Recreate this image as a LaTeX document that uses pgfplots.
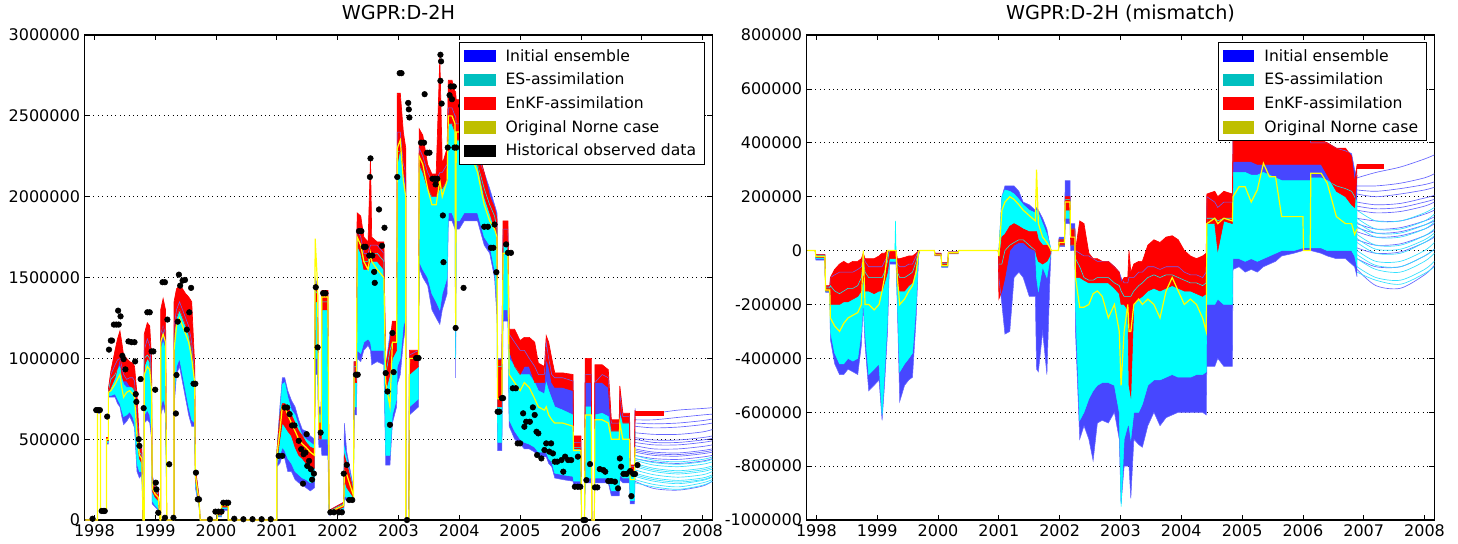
\documentclass[border=0pt]{standalone}
\usepackage{fontspec}
\setmainfont{DejaVu Sans}
\usepackage{pgfplots}
\usepackage{pgfplotstable}
\usepgfplotslibrary{fillbetween}
\pgfplotsset{compat=1.18}
\definecolor{mplc}{rgb}{0,0.75,0.75}
\definecolor{mply}{rgb}{0.75,0.75,0}
\definecolor{pblue}{rgb}{0,0,1}
\definecolor{pred}{rgb}{1,0,0}
\definecolor{bandblue}{rgb}{0.28,0.28,1}
\definecolor{edgeblue}{rgb}{0.4,0.4,1}
\definecolor{cy}{rgb}{0,1,1}
\definecolor{cyline}{rgb}{0.2,0.88,1}
\definecolor{yl}{rgb}{1,1,0}

% ---------------- left panel: simulated rates ----------------
\pgfplotstableread{
x blo bhi clo chi rlo rhi yel
1997.85 0 0 0 0 0 0 0
1998.05 0 0 0 0 0 0 0
1998.05 660000 690000 665000 685000 670000 690000 680000
1998.10 660000 690000 665000 685000 670000 690000 680000
1998.10 50000 65000 52000 62000 55000 65000 60000
1998.20 50000 65000 52000 62000 55000 65000 60000
1998.20 470000 510000 480000 500000 490000 510000 500000
1998.23 470000 510000 480000 500000 490000 510000 500000
1998.23 760000 800000 770000 800000 780000 810000 790000
1998.27 760000 900000 770000 870000 820000 920000 800000
1998.34 760000 960000 780000 900000 880000 1050000 840000
1998.38 720000 990000 750000 930000 940000 1120000 870000
1998.42 700000 1000000 720000 950000 1000000 1170000 900000
1998.45 640000 950000 680000 880000 900000 1100000 820000
1998.48 590000 900000 640000 840000 860000 1020000 760000
1998.53 610000 870000 650000 820000 860000 1000000 790000
1998.58 640000 880000 670000 820000 830000 980000 800000
1998.63 600000 880000 640000 820000 820000 970000 780000
1998.66 570000 860000 600000 800000 800000 950000 760000
1998.70 300000 620000 350000 560000 500000 780000 520000
1998.74 260000 460000 300000 420000 380000 480000 400000
1998.78 280000 440000 300000 400000 350000 450000 380000
1998.80 0 0 0 0 0 0 0
1998.82 0 0 0 0 0 0 0
1998.82 600000 1050000 650000 1000000 950000 1150000 900000
1998.87 620000 1120000 680000 1020000 1000000 1220000 950000
1998.91 600000 1080000 650000 1000000 980000 1200000 930000
1998.94 500000 900000 550000 850000 800000 1000000 800000
1998.95 100000 280000 120000 250000 180000 260000 200000
1999.00 80000 200000 90000 180000 140000 200000 160000
1999.05 60000 180000 70000 160000 120000 180000 140000
1999.08 0 0 0 0 0 0 0
1999.09 0 0 0 0 0 0 0
1999.09 650000 1150000 700000 1050000 1100000 1300000 1100000
1999.13 700000 1200000 750000 1100000 1200000 1370000 1150000
1999.17 650000 1150000 700000 1050000 1100000 1300000 1100000
1999.19 0 0 0 0 0 0 0
1999.31 0 0 0 0 0 0 0
1999.31 700000 1200000 760000 1120000 1150000 1350000 1050000
1999.35 900000 1300000 950000 1250000 1250000 1430000 1200000
1999.40 950000 1350000 1000000 1300000 1300000 1450000 1250000
1999.45 850000 1300000 900000 1250000 1250000 1430000 1200000
1999.50 750000 1250000 800000 1200000 1200000 1400000 1150000
1999.55 650000 1200000 700000 1150000 1150000 1380000 1100000
1999.60 580000 1100000 620000 1050000 1050000 1350000 1000000
1999.65 580000 900000 600000 880000 860000 950000 850000
1999.66 200000 320000 220000 300000 250000 320000 280000
1999.72 80000 150000 90000 140000 100000 150000 120000
1999.74 0 0 0 0 0 0 0
2000.02 0 0 0 0 0 0 0
2000.02 20000 50000 25000 45000 30000 50000 40000
2000.09 20000 50000 25000 45000 30000 50000 40000
2000.09 60000 110000 70000 100000 80000 110000 90000
2000.20 60000 110000 70000 100000 80000 110000 90000
2000.20 0 0 0 0 0 0 0
2001.00 0 0 0 0 0 0 0
2001.00 330000 420000 350000 410000 360000 420000 400000
2001.05 350000 700000 400000 650000 500000 650000 550000
2001.09 400000 880000 450000 840000 600000 720000 700000
2001.13 380000 880000 430000 850000 580000 720000 700000
2001.18 300000 800000 380000 760000 550000 700000 650000
2001.24 300000 740000 350000 680000 520000 650000 600000
2001.30 250000 700000 300000 650000 450000 600000 550000
2001.36 230000 620000 280000 580000 400000 550000 500000
2001.42 220000 560000 260000 520000 380000 520000 470000
2001.48 200000 550000 250000 500000 350000 480000 450000
2001.55 180000 520000 230000 480000 330000 450000 420000
2001.62 200000 500000 240000 460000 320000 440000 400000
2001.63 900000 1500000 1000000 1420000 1350000 1460000 1740000
2001.67 900000 1450000 1000000 1400000 1350000 1450000 1450000
2001.69 450000 700000 500000 650000 500000 600000 550000
2001.73 450000 700000 500000 650000 500000 600000 550000
2001.74 400000 1400000 500000 1350000 1300000 1420000 1380000
2001.84 400000 1400000 500000 1350000 1300000 1420000 1380000
2001.86 30000 60000 35000 55000 40000 60000 50000
2002.10 60000 110000 70000 100000 80000 110000 90000
2002.11 130000 600000 150000 450000 250000 400000 300000
2002.15 120000 420000 140000 380000 200000 350000 280000
2002.26 120000 200000 130000 180000 140000 180000 150000
2002.27 650000 980000 700000 950000 850000 980000 900000
2002.31 650000 980000 700000 950000 850000 980000 900000
2002.32 1000000 1800000 1050000 1750000 1700000 1900000 1750000
2002.38 980000 1750000 1030000 1700000 1650000 1880000 1700000
2002.43 1050000 1650000 1100000 1600000 1550000 1750000 1600000
2002.50 1080000 1650000 1120000 1600000 1550000 1720000 1550000
2002.54 1050000 1700000 1100000 1650000 1600000 2240000 1650000
2002.56 960000 1700000 1050000 1650000 1600000 1750000 1600000
2002.65 980000 1700000 1050000 1650000 1600000 1720000 1550000
2002.76 960000 1650000 1050000 1600000 1550000 1720000 1500000
2002.79 340000 950000 400000 900000 800000 950000 850000
2002.86 340000 1150000 400000 1050000 900000 1100000 700000
2002.90 600000 1150000 650000 1100000 1000000 1230000 1100000
2002.97 700000 1150000 750000 1100000 1050000 1230000 1100000
2002.98 840000 2400000 950000 2280000 2200000 2640000 2300000
2003.03 900000 2400000 1000000 2280000 2300000 2640000 2350000
2003.08 1100000 2200000 1200000 2100000 2150000 2400000 2100000
2003.12 1200000 2150000 1250000 2050000 2100000 2300000 2000000
2003.12 0 0 0 0 0 0 0
2003.17 0 0 0 0 0 0 0
2003.18 650000 1020000 700000 1000000 900000 1050000 1000000
2003.33 700000 1050000 750000 1000000 950000 1050000 1000000
2003.34 1560000 2300000 1600000 2200000 2200000 2420000 2250000
2003.40 1500000 2250000 1550000 2150000 2150000 2380000 2200000
2003.48 1450000 2150000 1500000 2050000 2050000 2200000 2050000
2003.55 1300000 2100000 1400000 2000000 2000000 2140000 1950000
2003.62 1250000 2100000 1350000 2000000 2000000 2140000 1950000
2003.68 1210000 2150000 1300000 2050000 2050000 2860000 2100000
2003.72 1300000 2150000 1400000 2050000 2050000 2200000 2000000
2003.80 1400000 2200000 1500000 2100000 2100000 2300000 2100000
2003.82 1850000 2550000 1900000 2450000 2450000 2720000 2500000
2003.88 1850000 2550000 1900000 2450000 2450000 2720000 2500000
2003.93 1800000 2500000 1850000 2400000 2400000 2650000 2450000
2003.94 880000 2500000 1000000 2400000 2400000 2650000 1200000
2003.95 1800000 2450000 1850000 2350000 2350000 2600000 2400000
2004.00 1800000 2450000 1850000 2350000 2350000 2600000 2400000
2004.08 1850000 2400000 1900000 2300000 2300000 2550000 2350000
2004.20 1850000 2320000 1900000 2250000 2250000 2450000 2250000
2004.30 1850000 2250000 1900000 2200000 2200000 2300000 2150000
2004.41 1700000 2150000 1750000 2050000 2000000 2150000 1950000
2004.50 1650000 2050000 1700000 1950000 1900000 2000000 1850000
2004.58 1500000 1950000 1550000 1880000 1800000 1930000 1800000
2004.62 1250000 1900000 1350000 1800000 1750000 1860000 1750000
2004.63 430000 1000000 480000 950000 700000 990000 750000
2004.70 430000 1000000 480000 950000 700000 990000 750000
2004.72 1230000 1800000 1300000 1700000 1700000 1850000 1650000
2004.80 1230000 1800000 1300000 1700000 1700000 1850000 1650000
2004.82 580000 1150000 620000 1000000 1050000 1180000 900000
2004.91 500000 1100000 550000 950000 950000 1180000 850000
2005.00 470000 1050000 500000 900000 900000 1110000 800000
2005.07 440000 1050000 480000 900000 950000 1130000 850000
2005.15 440000 1000000 470000 900000 950000 1130000 820000
2005.24 420000 950000 450000 850000 850000 1100000 750000
2005.30 390000 900000 420000 800000 850000 970000 700000
2005.40 390000 900000 420000 780000 850000 950000 680000
2005.43 390000 1100000 420000 850000 1000000 1140000 700000
2005.47 350000 1000000 380000 800000 950000 1100000 650000
2005.52 330000 900000 360000 750000 850000 1000000 620000
2005.57 260000 880000 290000 700000 820000 910000 600000
2005.70 250000 880000 280000 680000 820000 910000 600000
2005.87 240000 860000 270000 650000 800000 900000 580000
2005.88 220000 480000 240000 450000 440000 520000 430000
2006.00 220000 480000 240000 450000 440000 520000 430000
2006.01 0 0 0 0 0 0 0
2006.06 0 0 0 0 0 0 0
2006.07 230000 900000 260000 700000 850000 1000000 650000
2006.17 230000 900000 260000 700000 850000 1000000 650000
2006.18 0 0 0 0 0 0 0
2006.22 0 0 0 0 0 0 0
2006.23 230000 850000 260000 650000 850000 960000 620000
2006.35 230000 900000 260000 660000 850000 960000 620000
2006.45 230000 880000 260000 640000 820000 930000 600000
2006.50 150000 600000 180000 550000 550000 620000 500000
2006.63 150000 600000 180000 550000 550000 620000 500000
2006.64 250000 780000 280000 650000 700000 830000 600000
2006.69 230000 640000 260000 600000 600000 660000 500000
2006.80 230000 640000 260000 600000 600000 660000 500000
2006.81 100000 330000 120000 300000 280000 340000 250000
2006.88 100000 330000 120000 300000 280000 340000 250000
2006.89 240000 690000 260000 550000 640000 680000 450000
}\Lmain

\pgfplotstableread{
x b1 b2 b3 b4 b5 b6 b7 b8 b9 b10 b11 b12 b13 b14 b15 c1 c2 c3 c4 c5 c6 c7 c8 c9 c10 c11 c12
2006.89 650000 620000 580000 540000 510000 480000 460000 440000 420000 400000 380000 240000 600000 500000 430000 400000 370000 350000 330000 310000 290000 270000 250000 380000 340000 280000 230000
2007.2 660000 620000 570000 530000 495000 465000 440000 420000 400000 380000 360000 195000 595000 480000 410000 370000 340000 320000 300000 280000 260000 240000 220000 355000 310000 250000 205000
2007.6 680000 635000 575000 530000 495000 465000 440000 415000 395000 375000 350000 185000 600000 480000 405000 360000 330000 305000 285000 265000 245000 225000 205000 345000 295000 235000 190000
2008.0 690000 650000 590000 545000 510000 480000 455000 430000 410000 390000 365000 210000 615000 495000 420000 375000 345000 320000 300000 280000 260000 245000 230000 360000 310000 250000 215000
2008.16 695000 655000 600000 560000 520000 490000 465000 440000 420000 400000 380000 240000 625000 505000 430000 390000 360000 335000 315000 300000 280000 265000 250000 375000 325000 270000 240000
}\Ltail

\pgfplotstableread{
x y
1997.97 8000
1998.03 680000
1998.06 680000
1998.09 680000
1998.12 56000
1998.15 56000
1998.17 56000
1998.21 640000
1998.24 1054000
1998.27 1110000
1998.29 1110000
1998.32 1209000
1998.36 1209000
1998.40 1209000
1998.39 1295000
1998.43 1260000
1998.46 1016000
1998.48 995000
1998.51 932000
1998.56 1105000
1998.61 1100000
1998.66 1100000
1998.67 981000
1998.68 779000
1998.69 731000
1998.73 500000
1998.74 459000
1998.76 872000
1998.81 692000
1998.87 1285000
1998.91 1285000
1998.94 1043000
1998.97 1043000
1999.00 806000
1999.01 231000
1999.02 190000
1999.05 45000
1999.12 1471000
1999.16 1471000
1999.20 1240000
1999.16 14000
1999.23 345000
1999.30 14000
1999.34 659000
1999.35 897000
1999.37 1227000
1999.39 1518000
1999.41 1450000
1999.45 1481000
1999.49 1485000
1999.52 1178000
1999.56 1285000
1999.59 1436000
1999.63 843000
1999.66 843000
1999.67 293000
1999.70 128000
1999.72 128000
1999.90 5000
1999.99 52000
2000.04 52000
2000.09 52000
2000.12 107000
2000.17 107000
2000.20 107000
2000.30 8000
2000.45 5000
2000.60 5000
2000.75 5000
2000.90 5000
2001.03 397000
2001.09 397000
2001.13 696000
2001.17 696000
2001.21 655000
2001.25 585000
2001.29 585000
2001.36 490000
2001.40 438000
2001.44 407000
2001.47 417000
2001.50 335000
2001.53 366000
2001.56 314000
2001.43 225000
2001.61 287000
2001.58 250000
2001.49 531000
2001.64 1440000
2001.67 1068000
2001.72 541000
2001.76 1403000
2001.80 1403000
2001.88 48000
2001.94 48000
2002.02 48000
2002.07 48000
2002.10 287000
2002.15 341000
2002.19 124000
2002.24 124000
2002.30 899000
2002.33 899000
2002.35 1787000
2002.39 1787000
2002.43 1690000
2002.46 1690000
2002.53 2122000
2002.54 2237000
2002.52 1636000
2002.57 1636000
2002.60 1535000
2002.61 1467000
2002.68 1921000
2002.73 1696000
2002.77 1808000
2002.79 909000
2002.82 795000
2002.86 589000
2002.92 915000
2002.90 1157000
2002.98 2122000
2003.02 2764000
2003.05 2764000
2003.14 0
2003.16 2580000
2003.17 2540000
2003.18 2490000
2003.29 1002000
2003.33 1002000
2003.37 2334000
2003.42 2334000
2003.43 2634000
2003.47 2272000
2003.51 2272000
2003.56 2111000
2003.60 2111000
2003.64 2111000
2003.61 2076000
2003.69 2717000
2003.69 2878000
2003.70 2837000
2003.71 2576000
2003.73 1884000
2003.74 1595000
2003.81 2304000
2003.84 2628000
2003.86 2682000
2003.91 2682000
2003.88 2603000
2003.92 2304000
2003.95 2304000
2003.94 1188000
2004.03 2562000
2004.06 2562000
2004.07 1436000
2004.41 1814000
2004.47 1814000
2004.52 1684000
2004.56 1684000
2004.61 1533000
2004.58 1828000
2004.63 670000
2004.66 670000
2004.70 754000
2004.72 754000
2004.77 1705000
2004.80 1653000
2004.85 1653000
2004.88 815000
2004.93 815000
2004.96 474000
2005.00 474000
2005.05 660000
2005.07 577000
2005.10 608000
2005.16 608000
2005.21 697000
2005.24 650000
2005.27 546000
2005.30 536000
2005.28 402000
2005.35 381000
2005.40 433000
2005.43 474000
2005.48 423000
2005.51 474000
2005.54 412000
2005.57 361000
2005.61 361000
2005.68 371000
2005.71 299000
2005.74 392000
2005.79 371000
2005.84 371000
2005.90 206000
2005.95 206000
2005.99 206000
2005.95 392000
2006.04 0
2006.07 0
2006.09 247000
2006.15 346000
2006.23 202000
2006.27 202000
2006.31 315000
2006.37 309000
2006.40 299000
2006.45 241000
2006.50 241000
2006.56 237000
2006.61 196000
2006.64 381000
2006.66 330000
2006.70 285000
2006.75 285000
2006.81 303000
2006.83 148000
2006.86 285000
2006.89 285000
2006.93 340000
}\Lobs

% ---------------- right panel: mismatch ----------------
\pgfplotstableread{
x blo bhi clo chi rlo rhi yel
1997.85 0 0 0 0 0 0 0
1997.98 0 0 0 0 0 0 0
1997.99 -35000 -15000 -30000 -18000 -25000 -15000 -22000
1998.14 -35000 -15000 -30000 -18000 -25000 -15000 -22000
1998.15 -155000 -135000 -152000 -138000 -150000 -130000 -146000
1998.22 -155000 -135000 -152000 -138000 -150000 -130000 -146000
1998.23 -330000 -100000 -300000 -130000 -200000 -100000 -250000
1998.30 -420000 -90000 -380000 -150000 -200000 -70000 -280000
1998.38 -460000 -80000 -420000 -160000 -200000 -50000 -300000
1998.45 -460000 -80000 -420000 -150000 -190000 -40000 -270000
1998.52 -440000 -80000 -400000 -140000 -190000 -50000 -250000
1998.60 -450000 -80000 -410000 -140000 -180000 -40000 -240000
1998.68 -460000 -70000 -400000 -130000 -170000 -40000 -230000
1998.74 -350000 -60000 -300000 -100000 -150000 -30000 -200000
1998.77 -200000 -20000 -180000 -40000 -100000 -10000 0
1998.80 -350000 -40000 -300000 -80000 -150000 -30000 -200000
1998.86 -520000 -60000 -460000 -100000 -150000 -30000 -200000
1998.95 -500000 -60000 -440000 -100000 -160000 -30000 -220000
1999.03 -480000 -60000 -420000 -100000 -150000 -20000 -200000
1999.08 -630000 -60000 -610000 -100000 -150000 -10000 -150000
1999.12 -500000 -40000 -450000 -80000 -120000 -10000 -100000
1999.17 -300000 -20000 -250000 -40000 -80000 0 0
1999.20 -50000 0 -40000 0 -30000 0 0
1999.29 -50000 0 -40000 0 -30000 0 0
1999.30 -50000 0 -40000 110000 -30000 0 0
1999.31 -50000 0 -40000 0 -30000 0 0
1999.33 -200000 -50000 -180000 -80000 -120000 -30000 -100000
1999.37 -560000 -60000 -450000 -100000 -150000 -30000 -200000
1999.45 -500000 -60000 -420000 -100000 -150000 -25000 -180000
1999.52 -480000 -50000 -400000 -90000 -130000 -20000 -150000
1999.58 -470000 -50000 -380000 -80000 -120000 -20000 -130000
1999.64 -250000 -20000 -200000 -40000 -60000 -10000 -80000
1999.68 -20000 0 -15000 0 -10000 0 -5000
1999.70 0 0 0 0 0 0 0
1999.94 0 0 0 0 0 0 0
1999.95 -20000 -10000 -18000 -12000 -18000 -10000 -16000
2000.05 -20000 -10000 -18000 -12000 -18000 -10000 -16000
2000.06 -62000 -45000 -60000 -48000 -58000 -45000 -55000
2000.16 -62000 -45000 -60000 -48000 -58000 -45000 -55000
2000.17 -12000 -5000 -10000 -6000 -10000 -5000 -8000
2000.33 -12000 -5000 -10000 -6000 -10000 -5000 -8000
2000.34 0 0 0 0 0 0 0
2000.99 0 0 0 0 0 0 0
2001.00 -100000 0 -50000 0 -180000 -50000 -20000
2001.05 -200000 200000 -50000 200000 -150000 50000 150000
2001.10 -310000 240000 0 225000 -100000 60000 180000
2001.18 -300000 240000 20000 220000 0 90000 200000
2001.25 -100000 240000 30000 210000 20000 100000 190000
2001.33 -80000 220000 40000 190000 30000 90000 170000
2001.40 -100000 180000 40000 170000 30000 80000 150000
2001.50 -170000 170000 20000 150000 10000 70000 130000
2001.60 -170000 150000 0 140000 0 70000 110000
2001.62 -440000 160000 -100000 150000 -20000 70000 300000
2001.65 -450000 150000 -150000 140000 -40000 40000 100000
2001.72 -300000 120000 -60000 100000 -50000 20000 50000
2001.79 -460000 80000 -100000 60000 -40000 20000 30000
2001.84 -100000 20000 -30000 20000 -20000 10000 10000
2001.86 0 0 0 0 0 0 0
2001.98 0 0 0 0 0 0 0
2001.99 15000 50000 20000 40000 20000 40000 30000
2002.08 15000 50000 20000 40000 20000 40000 30000
2002.09 100000 260000 120000 190000 150000 200000 180000
2002.17 100000 260000 120000 190000 150000 200000 180000
2002.18 0 100000 20000 80000 20000 80000 50000
2002.25 0 100000 20000 80000 20000 80000 50000
2002.26 -300000 0 -200000 -30000 -100000 0 -100000
2002.33 -700000 -10000 -630000 -60000 -100000 110000 -210000
2002.40 -650000 -20000 -600000 -100000 -110000 100000 -210000
2002.48 -700000 -20000 -550000 -110000 -120000 -10000 -200000
2002.55 -780000 -30000 -520000 -110000 -120000 -30000 -160000
2002.62 -640000 -40000 -500000 -100000 -120000 -30000 -150000
2002.70 -630000 -40000 -490000 -100000 -120000 -40000 -170000
2002.80 -640000 -40000 -490000 -100000 -120000 -40000 -250000
2002.90 -600000 -60000 -500000 -120000 -140000 -60000 -200000
2002.98 -700000 -80000 -600000 -130000 -160000 -80000 -300000
2003.01 -940000 -100000 -950000 -150000 -200000 -120000 -500000
2003.06 -800000 -120000 -700000 -170000 -200000 -100000 -300000
2003.12 -800000 -120000 -650000 -170000 -220000 -100000 -200000
2003.14 -800000 -100000 -650000 -170000 -500000 0 -300000
2003.17 -920000 -100000 -700000 -170000 -540000 -80000 -300000
2003.22 -700000 -100000 -600000 -150000 -200000 -50000 -200000
2003.30 -720000 -80000 -600000 -130000 -180000 -40000 -180000
2003.36 -730000 -80000 -570000 -120000 -170000 -40000 -200000
2003.45 -650000 -60000 -500000 -100000 -150000 20000 -180000
2003.55 -600000 -60000 -480000 -90000 -140000 40000 -200000
2003.65 -650000 -70000 -480000 -100000 -150000 30000 -250000
2003.75 -620000 -60000 -470000 -90000 -140000 50000 -150000
2003.85 -610000 -60000 -460000 -90000 -130000 55000 -100000
2003.95 -600000 -60000 -470000 -100000 -140000 40000 -150000
2004.05 -600000 -80000 -470000 -110000 -150000 0 -200000
2004.15 -600000 -90000 -470000 -120000 -150000 -20000 -180000
2004.25 -600000 -90000 -460000 -120000 -160000 -30000 -200000
2004.35 -600000 -100000 -460000 -130000 -170000 -20000 -250000
2004.41 -610000 -80000 -450000 -120000 -160000 -10000 -300000
2004.42 -430000 200000 -200000 120000 100000 210000 100000
2004.55 -430000 180000 -200000 120000 100000 220000 120000
2004.60 -400000 160000 -180000 110000 0 200000 100000
2004.70 -430000 180000 -200000 120000 110000 220000 120000
2004.84 -430000 180000 -200000 120000 100000 210000 110000
2004.85 -70000 410000 -30000 290000 330000 410000 200000
2004.95 -60000 410000 -30000 290000 330000 410000 237000
2005.05 -80000 410000 -40000 290000 330000 410000 237000
2005.15 -70000 410000 -30000 280000 330000 410000 180000
2005.25 -80000 410000 -40000 280000 320000 410000 225000
2005.35 -60000 410000 -30000 290000 320000 410000 324000
2005.45 -50000 410000 -20000 280000 320000 410000 274000
2005.55 -40000 410000 -10000 270000 320000 410000 274000
2005.65 -20000 410000 0 260000 320000 410000 126000
2005.85 -10000 410000 0 260000 320000 410000 126000
2006.00 0 410000 10000 260000 320000 410000 126000
2006.01 0 410000 10000 260000 320000 410000 0
2006.12 0 410000 10000 260000 320000 410000 0
2006.13 0 400000 10000 270000 320000 410000 287000
2006.30 -10000 400000 10000 270000 320000 410000 287000
2006.40 -20000 400000 0 260000 280000 400000 250000
2006.55 -30000 380000 0 240000 220000 380000 126000
2006.70 -30000 370000 0 230000 200000 380000 100000
2006.80 -50000 360000 0 220000 170000 350000 100000
2006.85 -60000 300000 -20000 200000 160000 250000 60000
2006.89 -97000 274000 -60000 180000 280000 320000 80000
}\Rmain

\pgfplotstableread{
x b1 b2 b3 b4 b5 b6 b7 b8 b9 b10 b11 b12 b13 b14 b15 c1 c2 c3 c4 c5 c6 c7 c8 c9 c10 c11 c12
2006.89 270000 240000 210000 180000 150000 120000 100000 70000 40000 10000 -30000 -70000 225000 165000 85000 120000 90000 60000 30000 0 -30000 -60000 -80000 150000 105000 45000 -15000
2007.2 290000 240000 200000 170000 140000 110000 80000 50000 20000 -10000 -60000 -130000 220000 155000 65000 80000 50000 20000 -10000 -40000 -70000 -100000 -110000 110000 65000 5000 -55000
2007.6 310000 250000 210000 175000 145000 110000 85000 55000 25000 -5000 -60000 -140000 230000 160000 70000 80000 50000 20000 -10000 -40000 -80000 -110000 -125000 110000 65000 5000 -60000
2008.0 340000 270000 225000 195000 165000 135000 110000 80000 55000 30000 -20000 -90000 245000 180000 95000 110000 80000 55000 30000 0 -40000 -70000 -85000 140000 95000 40000 -20000
2008.16 355000 285000 235000 205000 180000 150000 125000 100000 75000 50000 5000 -55000 255000 190000 110000 135000 105000 80000 55000 30000 -10000 -40000 -60000 160000 115000 65000 5000
}\Rtail

\pgfplotsset{
  panel/.style={
    set layers,
    scale only axis, width=470.7pt, height=363.75pt,
    anchor=south west,
    xmin=1997.84, xmax=2008.16,
    xtick={1998,1999,2000,2001,2002,2003,2004,2005,2006,2007,2008},
    axis line style={line width=0.8pt},
    tick style={black, line width=0.6pt},
    major tick length=3.75pt,
    ymajorgrids,
    major grid style={black, line width=0.6pt, dash pattern=on 0.7pt off 2.6pt},
    tick label style={font=\fontsize{12}{14}\selectfont},
    /pgf/number format/assume math mode=true,
    /pgf/number format/1000 sep={},
    /pgf/number format/fixed,
    scaled y ticks=false, scaled x ticks=false,
    title style={font=\fontsize{14.4}{16}\selectfont, at={(0.5,1)}, anchor=base, yshift=6pt},
    legend style={font=\fontsize{11.7}{14}\selectfont, at={(1,1)}, anchor=north east,
      xshift=-5.25pt, yshift=-5.25pt, draw=black, line width=0.8pt, fill=white,
      inner xsep=3pt, inner ysep=3pt, row sep=3.4pt, column sep=4pt,
      nodes={inner xsep=3.5pt, inner ysep=2pt}},
    legend cell align=left,
  },
}

\begin{document}
\begin{tikzpicture}
% ================= LEFT =================
\begin{axis}[panel, at={(0pt,0pt)},
  ymin=0, ymax=3000000,
  ytick={0,500000,1000000,1500000,2000000,2500000,3000000},
  title={WGPR:D-2H}]
\addplot[name path=lbl, draw=edgeblue, line width=0.4pt, forget plot] table[x=x,y=blo]{\Lmain};
\addplot[name path=lbh, draw=edgeblue, line width=0.4pt, forget plot] table[x=x,y=bhi]{\Lmain};
\addplot[fill=bandblue, draw=none, forget plot] fill between[of=lbl and lbh];
\pgfplotsinvokeforeach{b1,b2,b3,b4,b5,b6,b7,b8,b9,b10,b11,b12,b13,b14,b15}{
  \addplot[draw=edgeblue, line width=0.5pt, smooth, forget plot] table[x=x,y=#1]{\Ltail};
}
\addplot[name path=lcl, draw=cy, line width=0.4pt, forget plot] table[x=x,y=clo]{\Lmain};
\addplot[name path=lch, draw=cy, line width=0.4pt, forget plot] table[x=x,y=chi]{\Lmain};
\addplot[fill=cy, draw=none, forget plot] fill between[of=lcl and lch];
\pgfplotsinvokeforeach{c1,c2,c3,c4,c5,c6,c7,c8,c9,c10,c11,c12}{
  \addplot[draw=cyline, line width=0.5pt, smooth, forget plot] table[x=x,y=#1]{\Ltail};
}
\addplot[name path=lrl, draw=pred, line width=0.4pt, forget plot] table[x=x,y=rlo]{\Lmain};
\addplot[name path=lrh, draw=pred, line width=0.5pt, forget plot] table[x=x,y=rhi]{\Lmain};
\addplot[fill=pred, draw=none, forget plot] fill between[of=lrl and lrh];
\addplot[pred, line width=3.5pt, forget plot] coordinates {(2006.89,660000) (2007.36,660000)};
\addplot[yl, line width=0.9pt, forget plot] table[x=x,y=yel]{\Lmain};
\addplot[only marks, mark=*, mark size=2.1pt, black, forget plot] table[x=x,y=y]{\Lobs};
\addlegendimage{legend image code/.code={\fill[pblue] (0pt,-4.3pt) rectangle (23pt,4.3pt);}}
\addlegendentry{Initial ensemble}
\addlegendimage{legend image code/.code={\fill[mplc] (0pt,-4.3pt) rectangle (23pt,4.3pt);}}
\addlegendentry{ES-assimilation}
\addlegendimage{legend image code/.code={\fill[pred] (0pt,-4.3pt) rectangle (23pt,4.3pt);}}
\addlegendentry{EnKF-assimilation}
\addlegendimage{legend image code/.code={\fill[mply] (0pt,-4.3pt) rectangle (23pt,4.3pt);}}
\addlegendentry{Original Norne case}
\addlegendimage{legend image code/.code={\fill[black] (0pt,-4.3pt) rectangle (23pt,4.3pt);}}
\addlegendentry{Historical observed data}
\end{axis}
% ================= RIGHT =================
\begin{axis}[panel, at={(541.5pt,0pt)},
  ymin=-1000000, ymax=800000,
  ytick={-1000000,-800000,-600000,-400000,-200000,0,200000,400000,600000,800000},
  title={WGPR:D-2H (mismatch)}]
\addplot[name path=rbl, draw=edgeblue, line width=0.4pt, forget plot] table[x=x,y=blo]{\Rmain};
\addplot[name path=rbh, draw=edgeblue, line width=0.4pt, forget plot] table[x=x,y=bhi]{\Rmain};
\addplot[fill=bandblue, draw=none, forget plot] fill between[of=rbl and rbh];
\pgfplotsinvokeforeach{b1,b2,b3,b4,b5,b6,b7,b8,b9,b10,b11,b12,b13,b14,b15}{
  \addplot[draw=edgeblue, line width=0.5pt, smooth, forget plot] table[x=x,y=#1]{\Rtail};
}
\addplot[name path=rcl, draw=cy, line width=0.4pt, forget plot] table[x=x,y=clo]{\Rmain};
\addplot[name path=rch, draw=cy, line width=0.4pt, forget plot] table[x=x,y=chi]{\Rmain};
\addplot[fill=cy, draw=none, forget plot] fill between[of=rcl and rch];
\pgfplotsinvokeforeach{c1,c2,c3,c4,c5,c6,c7,c8,c9,c10,c11,c12}{
  \addplot[draw=cyline, line width=0.5pt, smooth, forget plot] table[x=x,y=#1]{\Rtail};
}
\addplot[name path=rrl, draw=pred, line width=0.4pt, forget plot] table[x=x,y=rlo]{\Rmain};
\addplot[name path=rrh, draw=pred, line width=0.5pt, forget plot] table[x=x,y=rhi]{\Rmain};
\addplot[fill=pred, draw=none, forget plot] fill between[of=rrl and rrh];
\addplot[pred, line width=3.5pt, forget plot] coordinates {(2006.89,311000) (2007.34,311000)};
\addplot[yl, line width=0.9pt, forget plot] table[x=x,y=yel]{\Rmain};
\addlegendimage{legend image code/.code={\fill[pblue] (0pt,-4.3pt) rectangle (23pt,4.3pt);}}
\addlegendentry{Initial ensemble}
\addlegendimage{legend image code/.code={\fill[mplc] (0pt,-4.3pt) rectangle (23pt,4.3pt);}}
\addlegendentry{ES-assimilation}
\addlegendimage{legend image code/.code={\fill[pred] (0pt,-4.3pt) rectangle (23pt,4.3pt);}}
\addlegendentry{EnKF-assimilation}
\addlegendimage{legend image code/.code={\fill[mply] (0pt,-4.3pt) rectangle (23pt,4.3pt);}}
\addlegendentry{Original Norne case}
\end{axis}
\path (-63.5pt,-17.25pt) (1030pt,390pt);
\end{tikzpicture}
\end{document}
